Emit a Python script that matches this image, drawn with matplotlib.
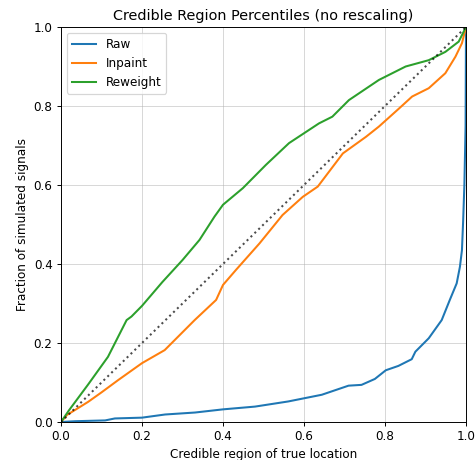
import matplotlib
matplotlib.use("Agg")
import matplotlib.pyplot as plt

# Data
raw_x = [0, 0.035, 0.109, 0.133, 0.2, 0.257, 0.331, 0.4, 0.479, 0.561, 0.6, 0.644,
         0.71, 0.742, 0.775, 0.802, 0.833, 0.866, 0.875, 0.908, 0.94, 0.96, 0.977,
         0.985, 0.99, 0.993, 0.996, 0.999, 1.0]
raw_y = [0, 0.002, 0.004, 0.009, 0.011, 0.019, 0.024, 0.032, 0.039, 0.052, 0.06, 0.069,
         0.092, 0.094, 0.109, 0.131, 0.142, 0.159, 0.178, 0.212, 0.258, 0.309, 0.351,
         0.393, 0.435, 0.51, 0.6, 0.75, 1.0]

inpaint_x = [0, 0.015, 0.034, 0.067, 0.1, 0.141, 0.2, 0.256, 0.33, 0.383, 0.4, 0.432,
             0.49, 0.547, 0.597, 0.634, 0.696, 0.753, 0.785, 0.835, 0.867, 0.908,
             0.949, 0.974, 0.99, 1.0]
inpaint_y = [0, 0.018, 0.03, 0.051, 0.075, 0.106, 0.149, 0.182, 0.258, 0.309, 0.347, 0.385,
             0.452, 0.524, 0.57, 0.596, 0.68, 0.722, 0.748, 0.794, 0.824, 0.845,
             0.883, 0.925, 0.959, 1.0]

reweight_x = [0, 0.02, 0.067, 0.116, 0.162, 0.174, 0.2, 0.25, 0.3, 0.342, 0.379, 0.4,
              0.449, 0.506, 0.563, 0.6, 0.637, 0.67, 0.711, 0.785, 0.851, 0.908, 0.949,
              0.982, 1.0]
reweight_y = [0, 0.03, 0.095, 0.165, 0.258, 0.267, 0.294, 0.354, 0.41, 0.461, 0.52, 0.55,
              0.592, 0.651, 0.706, 0.731, 0.756, 0.773, 0.815, 0.866, 0.9, 0.916, 0.937,
              0.963, 1.0]

labels = ["Raw", "Inpaint", "Reweight"]

DPI = 86.4
fig = plt.figure(figsize=(475 / DPI, 460 / DPI), dpi=DPI)
ax = fig.add_axes([61 / 475, 1 - 422 / 460, 405 / 475, 395 / 460])

ax.plot(raw_x, raw_y, color="#1f77b4", lw=1.7, label=labels[0])
ax.plot(inpaint_x, inpaint_y, color="#ff7f0e", lw=1.7, label=labels[1])
ax.plot(reweight_x, reweight_y, color="#2ca02c", lw=1.7, label=labels[2])
ax.plot([0, 1], [0, 1], "k:", lw=1.7, alpha=0.7)

ax.set_xlim(0, 1)
ax.set_ylim(0, 1)
ax.grid(alpha=0.5)
ax.set_title("Credible Region Percentiles (no rescaling)")
ax.set_xlabel("Credible region of true location")
ax.set_ylabel("Fraction of simulated signals")
ax.legend(loc="upper left")

fig.savefig("out.png", dpi=DPI)
